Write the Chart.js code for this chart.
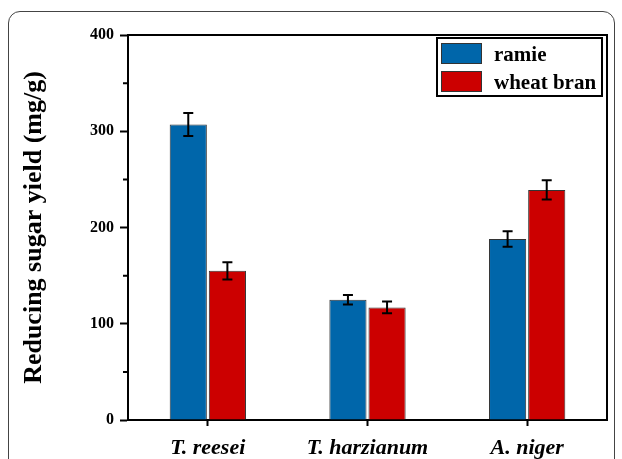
<!DOCTYPE html>
<html>
<head>
<meta charset="utf-8">
<script src="https://cdn.jsdelivr.net/npm/chart.js@4"></script>
<style>
  html, body { margin: 0; padding: 0; background: #fff; }
  #wrap { position: relative; width: 622px; height: 459px; overflow: hidden; }
  #frame { position: absolute; left: 8px; top: 11px; width: 605px; height: 470px;
           border: 1.5px solid #444; border-radius: 12px; }
  canvas { position: absolute; left: 0; top: 0; }
</style>
</head>
<body>
<div id="wrap">
  <div id="frame"></div>
  <canvas id="chart" width="622" height="459"></canvas>
</div>
<script>
// data
const categories = ['T. reesei', 'T. harzianum', 'A. niger'];
const ramie = [307, 125, 188];
const ramieErr = [12, 5, 8];
const wheatBran = [155, 117, 239];
const wheatBranErr = [9, 6, 10];
const yTicks = [0, 100, 200, 300, 400];
const yMinorTicks = [50, 150, 250, 350];

const BLUE = '#0066aa';
const RED = '#cc0000';
const SERIF = '"Liberation Serif", "DejaVu Serif", serif';

// error bars on top of each bar
const errorBars = {
  id: 'errorBars',
  afterDatasetsDraw(chart) {
    const ctx = chart.ctx;
    const y = chart.scales.y;
    ctx.save();
    ctx.strokeStyle = '#000';
    ctx.lineWidth = 2;
    chart.data.datasets.forEach((ds, i) => {
      const meta = chart.getDatasetMeta(i);
      meta.data.forEach((bar, j) => {
        const v = ds.data[j], e = ds.errors[j];
        const top = y.getPixelForValue(v + e);
        const bot = y.getPixelForValue(v - e);
        ctx.beginPath();
        ctx.moveTo(bar.x, top); ctx.lineTo(bar.x, bot);
        ctx.moveTo(bar.x - 5, top); ctx.lineTo(bar.x + 5, top);
        ctx.moveTo(bar.x - 5, bot); ctx.lineTo(bar.x + 5, bot);
        ctx.stroke();
      });
    });
    ctx.restore();
  }
};

// top/right frame, minor ticks and the boxed legend
const frameAndLegend = {
  id: 'frameAndLegend',
  afterDraw(chart) {
    const ctx = chart.ctx;
    const a = chart.chartArea;
    const y = chart.scales.y;
    ctx.save();
    ctx.strokeStyle = '#000';
    ctx.lineWidth = 2;
    ctx.beginPath();
    ctx.moveTo(a.left - 1, a.top); ctx.lineTo(a.right, a.top); ctx.lineTo(a.right, a.bottom);
    ctx.stroke();

    ctx.beginPath();
    yMinorTicks.forEach(v => {
      const py = y.getPixelForValue(v);
      ctx.moveTo(a.left - 5, py); ctx.lineTo(a.left, py);
    });
    ctx.stroke();

    // legend
    const lx = 437, ly = 38, lw = 165, lh = 58;
    ctx.lineWidth = 2;
    ctx.strokeRect(lx, ly, lw, lh);
    const items = [{ label: 'ramie', color: BLUE }, { label: 'wheat bran', color: RED }];
    ctx.font = 'bold 21px ' + SERIF;
    ctx.textBaseline = 'alphabetic';
    items.forEach((it, i) => {
      const sy = 43 + i * 28;
      ctx.fillStyle = it.color;
      ctx.fillRect(441, sy, 41, 21);
      ctx.lineWidth = 1;
      ctx.strokeStyle = '#333';
      ctx.strokeRect(441.5, sy + 0.5, 40, 20);
      ctx.fillStyle = '#000';
      ctx.fillText(it.label, 494, sy + 18);
    });
    ctx.restore();
  }
};

new Chart(document.getElementById('chart'), {
  type: 'bar',
  data: {
    labels: categories,
    datasets: [
      { label: 'ramie', data: ramie, errors: ramieErr, backgroundColor: BLUE,
        borderColor: '#333', borderWidth: 1 },
      { label: 'wheat bran', data: wheatBran, errors: wheatBranErr, backgroundColor: RED,
        borderColor: '#333', borderWidth: 1 }
    ]
  },
  options: {
    responsive: false,
    animation: false,
    devicePixelRatio: 1,
    categoryPercentage: 0.49,
    barPercentage: 0.95,
    layout: { padding: { left: 0, right: 15, top: 35, bottom: 0 } },
    plugins: { legend: { display: false }, tooltip: { enabled: false } },
    scales: {
      x: {
        offset: true,
        grid: { offset: false, drawOnChartArea: false, drawTicks: true, tickLength: 6,
                tickWidth: 2, tickColor: '#000' },
        border: { color: '#000', width: 2 },
        ticks: { color: '#000', padding: 9,
                 font: { family: SERIF, size: 22, weight: 'bold', style: 'italic' } },
        afterFit(scale) { scale.height = 39; }
      },
      y: {
        min: 0,
        max: 400,
        afterBuildTicks(scale) { scale.ticks = yTicks.map(v => ({ value: v })); },
        grid: { drawOnChartArea: false, tickLength: 8, tickWidth: 2, tickColor: '#000' },
        border: { color: '#000', width: 2 },
        ticks: { color: '#000', padding: 6, font: { family: SERIF, size: 16, weight: 'bold' } },
        title: { display: true, text: 'Reducing sugar yield (mg/g)', color: '#000',
                 font: { family: SERIF, size: 26, weight: 'bold' },
                 padding: { top: 19, bottom: 0 } },
        afterFit(scale) { scale.width = 128; }
      }
    }
  },
  plugins: [errorBars, frameAndLegend]
});
</script>
</body>
</html>
